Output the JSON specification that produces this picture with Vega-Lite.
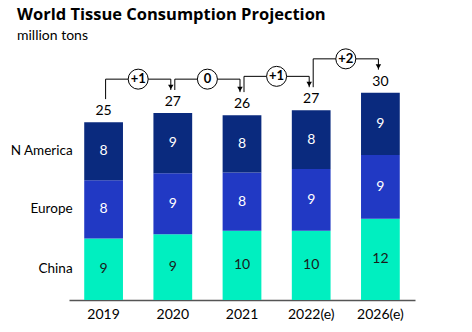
{
  "$schema": "https://vega.github.io/schema/vega-lite/v6.json",
  "width": 346,
  "height": 252,
  "autosize": {"type": "none"},
  "padding": {"left": 69, "top": 48, "right": 57, "bottom": 32},
  "background": "white",
  "config": {"view": {"stroke": null}, "font": "Lato"},
  "title": {
    "text": "World Tissue Consumption Projection",
    "subtitle": "million tons",
    "anchor": "start",
    "frame": "group",
    "dx": -52,
    "fontSize": 16.5,
    "fontWeight": "bold",
    "color": "black",
    "font": "Open Sans",
    "subtitleFont": "Lato",
    "subtitleFontSize": 14,
    "subtitleColor": "black",
    "subtitlePadding": 5,
    "offset": 4
  },
  "datasets": {
    "tissue": [
      {"year": "2019", "region": "China", "value": 8.8},
      {"year": "2019", "region": "Europe", "value": 8.3},
      {"year": "2019", "region": "N America", "value": 8.3},
      {"year": "2020", "region": "China", "value": 9.4},
      {"year": "2020", "region": "Europe", "value": 8.7},
      {"year": "2020", "region": "N America", "value": 8.6},
      {"year": "2021", "region": "China", "value": 9.9},
      {"year": "2021", "region": "Europe", "value": 8.3},
      {"year": "2021", "region": "N America", "value": 8.2},
      {"year": "2022(e)", "region": "China", "value": 9.9},
      {"year": "2022(e)", "region": "Europe", "value": 8.8},
      {"year": "2022(e)", "region": "N America", "value": 8.4},
      {"year": "2026(e)", "region": "China", "value": 11.6},
      {"year": "2026(e)", "region": "Europe", "value": 9.1},
      {"year": "2026(e)", "region": "N America", "value": 8.9}
    ],
    "steps": [
      {"from": "2019", "delta": "+1"},
      {"from": "2020", "delta": "0"},
      {"from": "2021", "delta": "+1"},
      {"from": "2022(e)", "delta": "+2"}
    ]
  },
  "data": {"name": "tissue"},
  "layer": [
    {
      "mark": {"type": "bar"},
      "encoding": {
        "x": {
          "field": "year", "type": "nominal", "title": null,
          "scale": {"paddingInner": 0.44, "paddingOuter": 0.22},
          "axis": {"domainColor": "#555555", "domainWidth": 1.5, "ticks": false, "labelAngle": 0, "labelFontSize": 14, "labelColor": "black", "labelPadding": 7, "labelFont": "Lato"}
        },
        "y": {"field": "value", "type": "quantitative", "stack": "zero", "scale": {"domain": [0, 36], "nice": false}, "axis": null},
        "color": {
          "field": "region", "type": "nominal", "legend": null,
          "scale": {"domain": ["China", "Europe", "N America"], "range": ["#00efc0", "#2139c4", "#0a2a7e"]}
        },
        "order": {"field": "region", "sort": "ascending"}
      }
    },
    {
      "transform": [
        {"stack": "value", "groupby": ["year"], "sort": [{"field": "region", "order": "ascending"}], "as": ["s0", "s1"]},
        {"calculate": "(datum.s0 + datum.s1) / 2", "as": "mid"}
      ],
      "layer": [
        {
          "mark": {"type": "text", "fontSize": 14, "baseline": "middle"},
          "encoding": {
            "x": {"field": "year", "type": "nominal", "title": null},
            "y": {"field": "mid", "type": "quantitative"},
            "text": {"field": "value", "type": "quantitative", "format": ".0f"},
            "color": {"condition": {"test": "datum.region === 'China'", "value": "#1a1a1a"}, "value": "white"}
          }
        },
        {
          "transform": [{"filter": "datum.year === '2019'"}],
          "mark": {"type": "text", "fontSize": 13.5, "baseline": "middle", "align": "right", "dx": -31, "color": "black"},
          "encoding": {
            "x": {"field": "year", "type": "nominal", "title": null},
            "y": {"field": "mid", "type": "quantitative"},
            "text": {"field": "region", "type": "nominal"}
          }
        }
      ]
    },
    {
      "transform": [
        {"aggregate": [{"op": "sum", "field": "value", "as": "total"}], "groupby": ["year"]}
      ],
      "mark": {"type": "text", "fontSize": 14, "baseline": "middle", "dy": -11, "color": "black"},
      "encoding": {
        "x": {"field": "year", "type": "nominal", "title": null},
        "y": {"field": "total", "type": "quantitative"},
        "text": {"field": "total", "type": "quantitative", "format": ".0f"}
      }
    },
    {
      "transform": [
        {"aggregate": [{"op": "sum", "field": "value", "as": "total"}], "groupby": ["year"]},
        {"window": [{"op": "lead", "field": "year", "as": "next"}, {"op": "lead", "field": "total", "as": "nextTotal"}], "sort": [{"field": "year", "order": "ascending"}]},
        {"filter": "datum.next != null"},
        {"lookup": "year", "from": {"data": {"name": "steps"}, "key": "from", "fields": ["delta"]}},
        {"calculate": "datum.total + 3.3", "as": "y0"},
        {"calculate": "max(datum.total, datum.nextTotal) + 4.85", "as": "lvl"},
        {"calculate": "datum.nextTotal + 3.3", "as": "y1"}
      ],
      "layer": [
        {
          "mark": {"type": "rule", "color": "black", "strokeWidth": 1, "xOffset": 2},
          "encoding": {
            "x": {"field": "year", "type": "nominal", "title": null},
            "y": {"field": "y0", "type": "quantitative"},
            "y2": {"field": "lvl"}
          }
        },
        {
          "mark": {"type": "rule", "color": "black", "strokeWidth": 1, "xOffset": 2, "x2Offset": -2},
          "encoding": {
            "x": {"field": "year", "type": "nominal", "title": null},
            "x2": {"field": "next"},
            "y": {"field": "lvl", "type": "quantitative"}
          }
        },
        {
          "mark": {"type": "rule", "color": "black", "strokeWidth": 1, "xOffset": -2},
          "encoding": {
            "x": {"field": "next", "type": "nominal", "title": null},
            "y": {"field": "lvl", "type": "quantitative"},
            "y2": {"field": "y1"}
          }
        },
        {
          "mark": {"type": "point", "shape": "triangle-down", "filled": true, "color": "black", "opacity": 1, "size": 30, "xOffset": -2, "yOffset": -3},
          "encoding": {
            "x": {"field": "next", "type": "nominal", "title": null},
            "y": {"field": "y1", "type": "quantitative"}
          }
        },
        {
          "mark": {"type": "point", "shape": "circle", "filled": true, "fill": "white", "stroke": "black", "strokeWidth": 1, "opacity": 1, "size": 400, "xOffset": 34.6},
          "encoding": {
            "x": {"field": "year", "type": "nominal", "title": null},
            "y": {"field": "lvl", "type": "quantitative"}
          }
        },
        {
          "mark": {"type": "text", "fontSize": 13, "fontWeight": "bold", "baseline": "middle", "color": "black", "xOffset": 34.6},
          "encoding": {
            "x": {"field": "year", "type": "nominal", "title": null},
            "y": {"field": "lvl", "type": "quantitative"},
            "text": {"field": "delta", "type": "nominal"}
          }
        }
      ]
    }
  ]
}
